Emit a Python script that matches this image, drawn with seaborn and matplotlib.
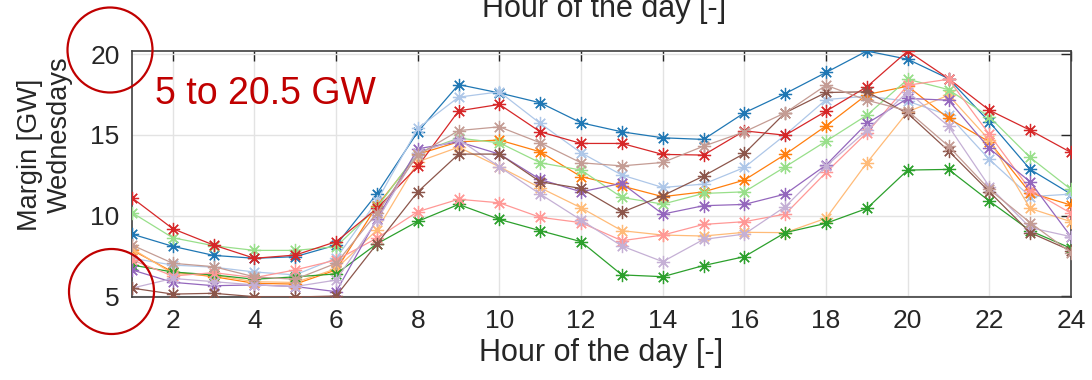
import matplotlib
matplotlib.use("Agg")
import matplotlib.pyplot as plt
from matplotlib.patches import Circle
import seaborn as sns
import pandas as pd

# ---------------- data ----------------
hours = list(range(1, 25))

margin_blue = [8.85, 8.09, 7.53, 7.35, 7.45, 8.17, 11.35, 15.19, 18.12, 17.60, 16.99, 15.75,
               15.19, 14.82, 14.72, 16.37, 17.56, 18.87, 20.20, 19.69, 18.49, 15.81, 12.86, 11.33]
margin_lightblue = [7.35, 6.93, 6.80, 6.50, 6.32, 7.35, 10.90, 15.40, 17.34, 17.67, 15.71, 13.89,
                    12.51, 11.74, 11.95, 12.98, 15.00, 17.19, 17.40, 17.09, 16.22, 13.48, 11.17, 11.33]
margin_orange = [7.86, 6.50, 6.21, 5.80, 5.75, 6.63, 10.60, 13.80, 14.57, 14.68, 13.95, 12.41,
                 11.83, 11.17, 11.47, 12.20, 13.79, 15.56, 17.50, 18.02, 16.02, 14.57, 11.41, 10.65]
margin_lightorange = [7.95, 6.40, 6.30, 5.90, 5.85, 6.70, 9.10, 13.33, 14.24, 13.02, 11.72, 10.48,
                      9.06, 8.79, 8.73, 8.96, 8.94, 9.83, 13.27, 16.43, 17.46, 14.68, 10.44, 9.62]
margin_green = [6.93, 6.50, 6.32, 6.05, 6.20, 6.38, 8.25, 9.64, 10.69, 9.76, 9.06, 8.38,
                6.32, 6.21, 6.90, 7.45, 8.94, 9.52, 10.44, 12.82, 12.86, 10.90, 9.06, 7.97]
margin_lightgreen = [10.18, 8.62, 8.13, 7.84, 7.84, 8.07, 10.50, 13.90, 14.80, 14.51, 13.27, 12.82,
                     11.12, 10.71, 11.37, 11.47, 13.02, 14.61, 16.22, 18.45, 17.81, 16.12, 13.60, 11.62]
margin_red = [11.10, 9.18, 8.17, 7.35, 7.55, 8.38, 10.44, 13.05, 16.49, 16.89, 15.19, 14.47,
              14.47, 13.79, 13.75, 15.25, 14.98, 16.47, 17.98, 20.20, 18.49, 16.53, 15.29, 13.91]
margin_lightred = [7.25, 6.25, 6.46, 6.15, 6.63, 7.24, 8.60, 10.24, 11.01, 10.79, 9.89, 9.56,
                   8.44, 8.79, 9.45, 9.62, 10.09, 12.67, 15.13, 18.08, 18.45, 15.03, 11.60, 10.14]
margin_purple = [6.63, 5.86, 5.65, 5.70, 5.60, 5.28, 9.80, 14.14, 14.57, 13.81, 12.24, 11.47,
                 12.00, 10.09, 10.61, 10.69, 11.33, 13.13, 15.71, 17.26, 17.15, 14.16, 12.09, 8.69]
margin_lightpurple = [5.50, 6.10, 5.90, 5.70, 5.60, 6.00, 9.70, 13.90, 14.72, 13.02, 11.33, 9.72,
                      8.11, 7.14, 8.52, 8.85, 10.55, 13.06, 15.29, 17.67, 15.54, 11.80, 9.25, 8.69]
margin_brown = [5.50, 5.13, 5.18, 4.97, 4.95, 5.01, 8.25, 11.47, 13.81, 13.81, 12.09, 11.68,
                10.20, 11.23, 12.45, 13.85, 16.37, 17.63, 17.67, 16.33, 14.01, 11.47, 8.94, 7.82]
margin_lightbrown = [8.17, 7.04, 6.83, 6.20, 6.05, 7.04, 10.15, 13.75, 15.27, 15.50, 14.51, 13.27,
                     13.08, 13.29, 14.30, 15.19, 16.37, 18.08, 17.15, 16.49, 14.30, 11.62, 9.56, 7.70]

series = [margin_blue, margin_lightblue, margin_orange, margin_lightorange,
          margin_green, margin_lightgreen, margin_red, margin_lightred,
          margin_purple, margin_lightpurple, margin_brown, margin_lightbrown]

x_ticks = [2, 4, 6, 8, 10, 12, 14, 16, 18, 20, 22, 24]
y_ticks = [5, 10, 15, 20]
x_label = "Hour of the day [-]"
y_label_lines = ["Margin [GW]", "Wednesdays"]
note = "5 to 20.5 GW"

# ---------------- style ----------------
sns.set_style("white")
plt.rcParams["font.family"] = ["Liberation Sans", "DejaVu Sans"]

palette = sns.color_palette("tab20", 12)
W, H = 1092, 380
fig = plt.figure(figsize=(W / 100, H / 100), dpi=100)
ax = fig.add_axes([132 / W, 1 - 297 / H, (1071 - 132) / W, (297 - 50.7) / H])

for i, vals in enumerate(series):
    df = pd.DataFrame({"hour": hours, "margin": vals})
    c = palette[i]
    sns.lineplot(data=df, x="hour", y="margin", ax=ax, color=c, lw=0.9,
                 marker=(8, 2, 0), markersize=9.5, markeredgecolor=c,
                 markeredgewidth=0.9, zorder=3)

ax.set_xlim(1, 24)
ax.set_ylim(4.95, 20.22)
ax.set_xticks(x_ticks)
ax.set_yticks(y_ticks)
ax.grid(True, color="#e3e3e3", lw=1, zorder=0)
ax.set_axisbelow(True)
ax.tick_params(direction="in", length=7, width=1, colors="#262626",
               labelsize=19, top=True, right=True, pad=9)
for sp in ax.spines.values():
    sp.set_visible(True)
    sp.set_color("#404040")
    sp.set_linewidth(1.2)

ax.set_xlabel(x_label, fontsize=22, color="#262626", labelpad=3)
ax.set_ylabel("")

# two-line y label (placed as in the reference)
fig.text(30 / W, 1 - 155 / H, y_label_lines[0], fontsize=19.5, color="#262626",
         rotation=90, ha="center", va="center")
fig.text(60 / W, 1 - 135 / H, y_label_lines[1], fontsize=19.5, color="#262626",
         rotation=90, ha="center", va="center")

# cut-off label from the panel above
fig.text(0.553, 1 - 17 / H, x_label, fontsize=22, color="#262626",
         ha="center", va="baseline")

# red annotation
red = "#c00000"
fig.text(155 / W, 1 - 104 / H, note, fontsize=27, color=red, ha="left", va="baseline")
for (cx, cy) in [(110, 50), (111.5, 291.5)]:
    circ = Circle((cx / 100, (H - cy) / 100), 0.425, transform=fig.dpi_scale_trans,
                  fill=False, edgecolor=red, lw=1.6)
    fig.add_artist(circ)

fig.savefig("out.png", dpi=100)
